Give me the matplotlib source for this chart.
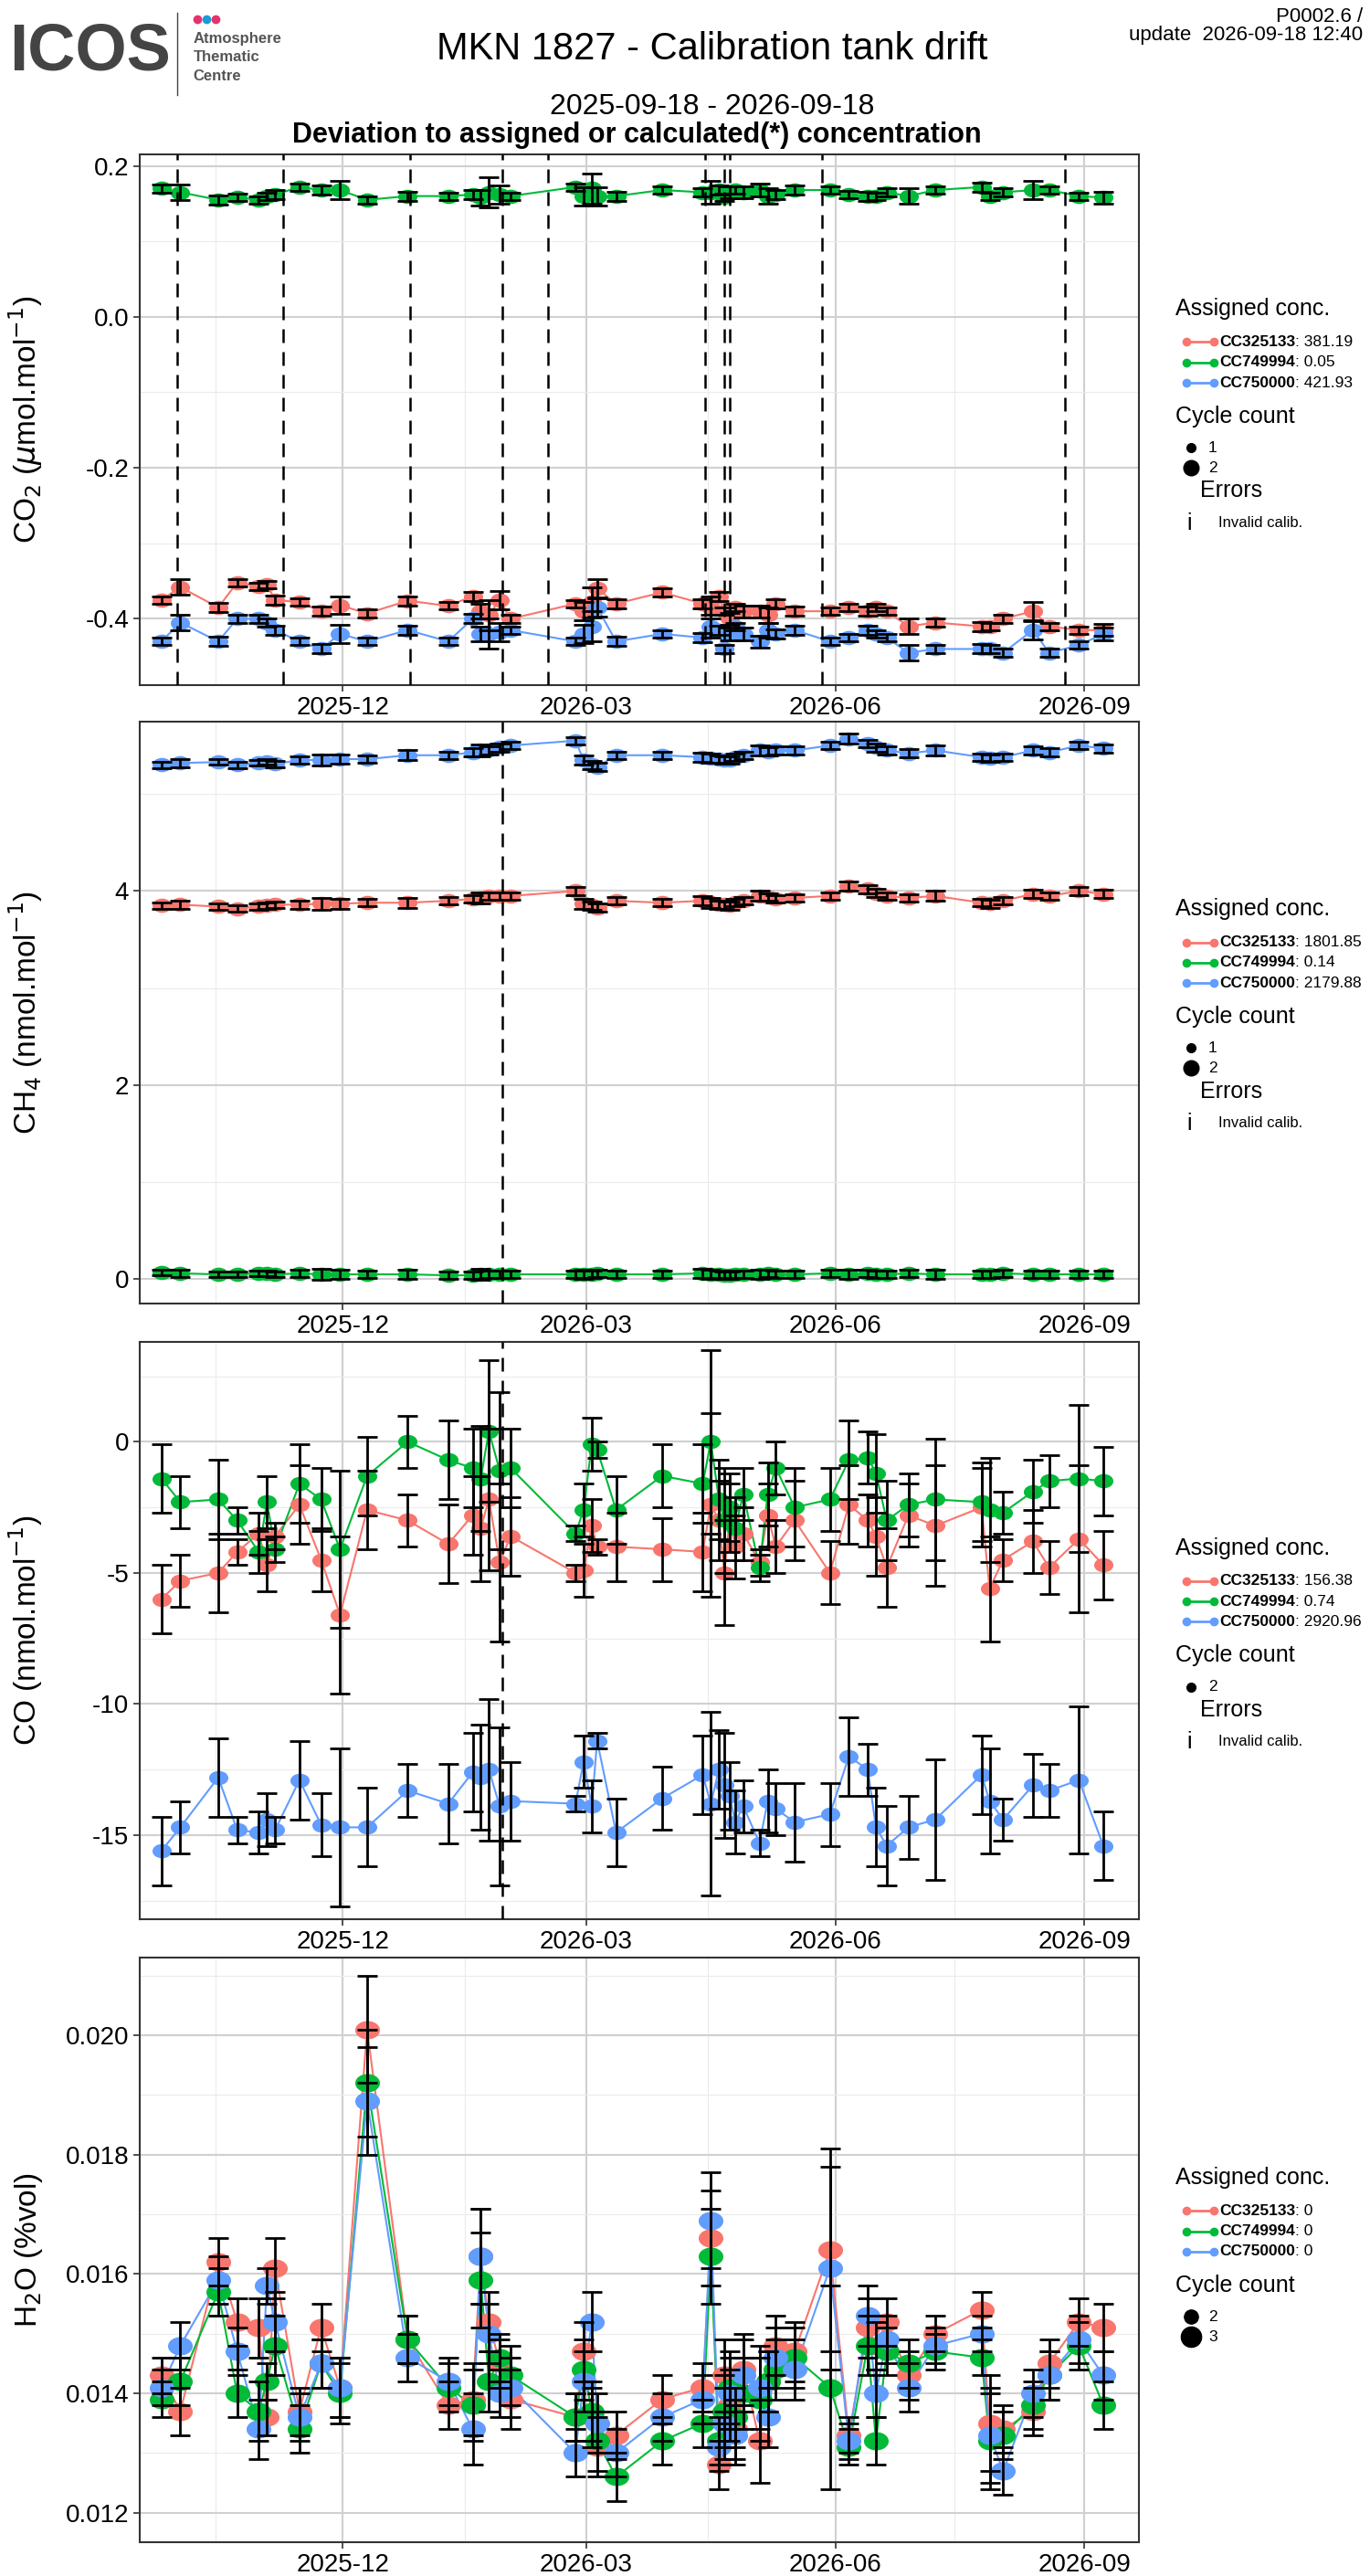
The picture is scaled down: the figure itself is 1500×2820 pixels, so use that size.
import matplotlib
matplotlib.use("Agg")
import matplotlib.pyplot as plt
import matplotlib.dates as mdates
import numpy as np
import pandas as pd
from matplotlib.path import Path
from matplotlib.lines import Line2D

plt.rcParams['font.family'] = ['Liberation Sans', 'DejaVu Sans']

dates = pd.to_datetime([
    "2025-09-25","2025-10-02","2025-10-16","2025-10-23","2025-10-31","2025-11-03","2025-11-06","2025-11-15","2025-11-23","2025-11-30",
    "2025-12-10","2025-12-25","2026-01-09","2026-01-18","2026-01-21","2026-01-24","2026-01-28","2026-02-01","2026-02-25","2026-02-28",
    "2026-03-03","2026-03-05","2026-03-12","2026-03-29","2026-04-13","2026-04-16","2026-04-19","2026-04-21","2026-04-23","2026-04-25",
    "2026-04-28","2026-05-04","2026-05-07","2026-05-10","2026-05-17","2026-05-30","2026-06-06","2026-06-13","2026-06-16","2026-06-20",
    "2026-06-28","2026-07-08","2026-07-25","2026-07-28","2026-08-02","2026-08-13","2026-08-19","2026-08-30","2026-09-08"])

tanks = ["CC325133", "CC749994", "CC750000"]
colors = ["#F8766D", "#00BA38", "#619CFF"]

co2_red = [-0.375,-0.358,-0.385,-0.352,-0.357,-0.355,-0.375,-0.378,-0.39,-0.382,
           -0.393,-0.376,-0.383,-0.37,-0.39,-0.395,-0.375,-0.40,-0.38,-0.39,
           -0.378,-0.36,-0.38,-0.365,-0.38,-0.385,-0.37,-0.39,-0.40,-0.385,
           -0.39,-0.39,-0.395,-0.38,-0.39,-0.39,-0.385,-0.39,-0.385,-0.39,
           -0.41,-0.405,-0.41,-0.41,-0.40,-0.39,-0.41,-0.415,-0.415]
co2_green = [0.17,0.165,0.155,0.158,0.155,0.16,0.162,0.172,0.168,0.168,
             0.155,0.16,0.16,0.162,0.158,0.165,0.162,0.16,0.172,0.16,
             0.17,0.16,0.16,0.168,0.165,0.165,0.168,0.158,0.165,0.168,
             0.165,0.168,0.16,0.162,0.168,0.168,0.162,0.16,0.16,0.165,
             0.16,0.168,0.172,0.16,0.165,0.168,0.168,0.16,0.158]
co2_blue = [-0.43,-0.405,-0.43,-0.40,-0.40,-0.405,-0.415,-0.43,-0.44,-0.42,
            -0.43,-0.415,-0.43,-0.40,-0.42,-0.42,-0.418,-0.415,-0.43,-0.42,
            -0.41,-0.385,-0.43,-0.42,-0.425,-0.41,-0.415,-0.44,-0.42,-0.41,
            -0.42,-0.43,-0.415,-0.42,-0.415,-0.43,-0.425,-0.415,-0.42,-0.425,
            -0.445,-0.44,-0.44,-0.44,-0.445,-0.415,-0.445,-0.435,-0.42]
co2_err = [0.005,0.01,0.006,0.005,0.005,0.005,0.006,0.005,0.006,0.012,
           0.005,0.006,0.005,0.006,0.01,0.02,0.012,0.005,0.005,0.012,
           0.02,0.012,0.006,0.005,0.006,0.015,0.006,0.005,0.008,0.005,
           0.008,0.008,0.01,0.006,0.006,0.005,0.005,0.006,0.005,0.005,
           0.01,0.005,0.006,0.005,0.005,0.012,0.005,0.005,0.008]

ch4_red = [3.85,3.86,3.84,3.82,3.84,3.85,3.86,3.86,3.87,3.87,
           3.88,3.88,3.90,3.92,3.93,3.95,3.95,3.95,4.0,3.87,
           3.85,3.83,3.90,3.88,3.90,3.88,3.86,3.86,3.85,3.88,
           3.90,3.95,3.94,3.92,3.93,3.95,4.05,4.02,3.98,3.95,
           3.93,3.95,3.88,3.87,3.90,3.97,3.95,4.0,3.97]
ch4_green = [0.07,0.06,0.05,0.05,0.06,0.06,0.05,0.06,0.05,0.05,
             0.05,0.05,0.04,0.04,0.05,0.05,0.05,0.05,0.05,0.05,
             0.05,0.06,0.05,0.05,0.06,0.05,0.05,0.04,0.04,0.05,
             0.05,0.05,0.06,0.05,0.05,0.06,0.05,0.06,0.05,0.05,
             0.06,0.05,0.05,0.05,0.06,0.05,0.05,0.05,0.05]
ch4_blue = [5.30,5.32,5.33,5.30,5.32,5.33,5.31,5.35,5.35,5.36,
            5.36,5.40,5.40,5.43,5.45,5.45,5.48,5.50,5.55,5.35,
            5.30,5.28,5.40,5.40,5.38,5.37,5.36,5.35,5.35,5.38,
            5.40,5.45,5.44,5.45,5.45,5.50,5.57,5.52,5.48,5.45,
            5.42,5.45,5.38,5.37,5.38,5.45,5.43,5.50,5.47]
ch4_err = [0.03,0.04,0.03,0.03,0.03,0.03,0.03,0.04,0.06,0.05,
           0.04,0.05,0.04,0.04,0.06,0.04,0.04,0.04,0.04,0.05,
           0.04,0.04,0.04,0.04,0.05,0.05,0.04,0.04,0.04,0.04,
           0.04,0.05,0.04,0.04,0.04,0.04,0.05,0.04,0.04,0.04,
           0.04,0.05,0.04,0.04,0.04,0.04,0.04,0.04,0.04]

co_red = [-6.0,-5.3,-5.0,-4.2,-3.5,-4.7,-3.6,-2.4,-4.5,-6.6,
          -2.6,-3.0,-3.9,-2.8,-3.3,-2.2,-4.6,-3.6,-5.0,-4.9,
          -3.2,-4.0,-4.0,-4.1,-4.2,-2.4,-3.0,-5.0,-2.9,-4.0,
          -3.5,-4.6,-2.8,-4.0,-3.0,-5.0,-2.4,-3.0,-3.6,-4.8,
          -2.8,-3.2,-2.5,-5.6,-4.5,-3.8,-4.8,-3.7,-4.7]
co_green = [-1.4,-2.3,-2.2,-3.0,-4.2,-2.3,-4.1,-1.6,-2.2,-4.1,
            -1.3,0.0,-0.7,-1.0,-1.4,0.4,-1.1,-1.0,-3.5,-2.6,
            -0.1,-0.3,-2.6,-1.3,-1.6,0.0,-2.2,-3.0,-2.5,-3.3,
            -2.0,-4.8,-2.0,-1.0,-2.5,-2.2,-0.7,-0.6,-1.2,-3.0,
            -2.4,-2.2,-2.3,-2.6,-2.7,-1.9,-1.5,-1.4,-1.5]
co_blue = [-15.6,-14.7,-12.8,-14.8,-14.9,-14.4,-14.8,-12.9,-14.6,-14.7,
           -14.7,-13.3,-13.8,-12.6,-12.8,-12.5,-13.9,-13.7,-13.8,-12.2,
           -13.9,-11.4,-14.9,-13.6,-12.7,-13.8,-12.5,-13.1,-13.5,-14.5,
           -13.9,-15.3,-13.7,-14.0,-14.5,-14.2,-12.0,-12.5,-14.7,-15.4,
           -14.7,-14.4,-12.7,-13.7,-14.4,-13.1,-13.3,-12.9,-15.4]
co_err = [1.3,1.0,1.5,0.5,0.8,1.0,0.5,1.5,1.2,3.0,
          1.5,1.0,1.5,1.5,2.0,2.7,3.0,1.5,0.3,1.0,
          1.0,0.3,1.3,1.2,1.5,3.5,1.5,2.0,1.3,1.2,
          1.0,0.5,1.2,1.0,1.5,1.2,1.5,1.0,1.5,1.5,
          1.2,2.3,1.5,2.0,0.8,1.2,1.0,2.8,1.3]

h2o_red = [0.0143,0.0137,0.0162,0.0152,0.0151,0.0136,0.0161,0.0137,0.0151,0.0141,
           0.0201,0.0149,0.0138,0.0139,0.0163,0.0152,0.0145,0.0139,0.0136,0.0147,
           0.0136,0.0131,0.0133,0.0139,0.0141,0.0166,0.0128,0.0143,0.0138,0.0134,
           0.0144,0.0132,0.0142,0.0148,0.0147,0.0164,0.0133,0.0151,0.0148,0.0152,
           0.0143,0.0150,0.0154,0.0135,0.0134,0.0137,0.0145,0.0152,0.0151]
h2o_green = [0.0139,0.0142,0.0157,0.0140,0.0137,0.0142,0.0148,0.0134,0.0145,0.0140,
             0.0192,0.0149,0.0141,0.0138,0.0159,0.0142,0.0146,0.0143,0.0136,0.0144,
             0.0137,0.0132,0.0126,0.0132,0.0135,0.0163,0.0132,0.0137,0.0141,0.0136,
             0.0140,0.0139,0.0142,0.0144,0.0146,0.0141,0.0131,0.0148,0.0132,0.0147,
             0.0145,0.0147,0.0146,0.0132,0.0133,0.0138,0.0143,0.0148,0.0138]
h2o_blue = [0.0141,0.0148,0.0159,0.0147,0.0134,0.0158,0.0152,0.0136,0.0145,0.0141,
            0.0189,0.0146,0.0142,0.0134,0.0163,0.0150,0.0140,0.0141,0.0130,0.0142,
            0.0152,0.0135,0.0130,0.0136,0.0139,0.0169,0.0131,0.0135,0.0140,0.0133,
            0.0143,0.0141,0.0136,0.0146,0.0144,0.0161,0.0132,0.0153,0.0140,0.0149,
            0.0141,0.0148,0.0150,0.0133,0.0127,0.0140,0.0143,0.0149,0.0143]
h2o_err = [0.0003,0.0004,0.0004,0.0004,0.0005,0.0003,0.0005,0.0004,0.0004,0.0005,
           0.0009,0.0004,0.0004,0.0006,0.0008,0.0005,0.0004,0.0005,0.0004,0.0005,
           0.0005,0.0005,0.0004,0.0004,0.0004,0.0008,0.0004,0.0006,0.0006,0.0005,
           0.0006,0.0007,0.0005,0.0005,0.0005,0.0017,0.0003,0.0005,0.0004,0.0004,
           0.0004,0.0003,0.0003,0.0008,0.0004,0.0004,0.0004,0.0004,0.0004]

co2_vlines = pd.to_datetime(["2025-10-01","2025-11-09","2025-12-26","2026-01-29","2026-02-15",
                             "2026-04-14","2026-04-21","2026-04-23","2026-05-27","2026-08-25"])
other_vlines = pd.to_datetime(["2026-01-29"])

panels = [
    dict(ylabel=r"CO$_2$ ($\mu$mol.mol$^{-1}$)", series=[co2_red, co2_green, co2_blue], err=co2_err,
         ylim=(-0.488, 0.215), yticks=[-0.4, -0.2, 0.0, 0.2], fmt="%.1f", vlines=co2_vlines,
         assigned=["381.19", "0.05", "421.93"], cycles=["1", "2"], size=230, errors=True,
         rect=[0.102, 0.734, 0.729, 0.206], legoff=0.043),
    dict(ylabel=r"CH$_4$ (nmol.mol$^{-1}$)", series=[ch4_red, ch4_green, ch4_blue], err=ch4_err,
         ylim=(-0.25, 5.75), yticks=[0, 2, 4], fmt="%d", vlines=other_vlines,
         assigned=["1801.85", "0.14", "2179.88"], cycles=["1", "2"], size=230, errors=True,
         rect=[0.102, 0.494, 0.729, 0.226], legoff=0.040),
    dict(ylabel=r"CO (nmol.mol$^{-1}$)", series=[co_red, co_green, co_blue], err=co_err,
         ylim=(-18.2, 3.8), yticks=[-15, -10, -5, 0], fmt="%d", vlines=other_vlines,
         assigned=["156.38", "0.74", "2920.96"], cycles=["2"], size=230, errors=True,
         rect=[0.102, 0.255, 0.729, 0.224], legoff=0.032),
    dict(ylabel=r"H$_2$O (%vol)", series=[h2o_red, h2o_green, h2o_blue], err=h2o_err,
         ylim=(0.0115, 0.0213), yticks=[0.012, 0.014, 0.016, 0.018, 0.020], fmt="%.3f", vlines=[],
         assigned=["0", "0", "0"], cycles=["2", "3"], size=380, errors=False,
         rect=[0.102, 0.013, 0.729, 0.227], legoff=0.028),
]

ell = Path.unit_circle().transformed(matplotlib.transforms.Affine2D().scale(1.35, 1.0))

fig = plt.figure(figsize=(15, 28.2), dpi=100)
renderer = fig.canvas.get_renderer()
xmin, xmax = pd.Timestamp("2025-09-17"), pd.Timestamp("2026-09-21")
for p in panels:
    ax = fig.add_axes(p["rect"])
    ax.set_facecolor("white")
    for ys, c in zip(p["series"], colors):
        ax.plot(dates, ys, color=c, lw=1.5, zorder=2)
        ax.scatter(dates, ys, s=p["size"], color=c, marker=ell, zorder=3, linewidths=0)
        ax.errorbar(dates, ys, yerr=p["err"], fmt="none", ecolor="black", elinewidth=2,
                    capsize=8, capthick=2, zorder=4)
    for v in p["vlines"]:
        ax.axvline(v, color="black", ls=(0, (6, 4)), lw=1.8, zorder=5)
    yt = p["yticks"]
    step = yt[1] - yt[0]
    ax.set_yticks(yt)
    ax.set_yticks([t + step / 2 for t in [yt[0] - step] + yt], minor=True)
    ax.set_xlim(xmin, xmax)
    ax.set_ylim(*p["ylim"])
    ax.yaxis.set_major_formatter(matplotlib.ticker.FormatStrFormatter(p["fmt"]))
    ax.xaxis.set_major_locator(mdates.MonthLocator(bymonth=[3, 6, 9, 12]))
    ax.xaxis.set_minor_locator(mdates.MonthLocator(bymonth=[1, 4, 7, 10], bymonthday=15))
    ax.xaxis.set_major_formatter(mdates.DateFormatter("%Y-%m"))
    ax.grid(True, which="major", color="#d0d0d0", lw=1.5)
    ax.grid(True, which="minor", color="#ebebeb", lw=0.8)
    ax.set_axisbelow(True)
    ax.tick_params(labelsize=20, length=5, width=1.2, color="#333333")
    ax.tick_params(which="minor", length=0)
    for s in ax.spines.values():
        s.set_color("#333333"); s.set_linewidth(1.5)
    ax.set_ylabel(p["ylabel"], fontsize=24)
    ax.yaxis.set_label_coords(-0.095, 0.5)

    # legend
    r = p["rect"]
    top = r[1] + r[3] / 2 + p["legoff"]
    fig.text(0.858, top, "Assigned conc.", fontsize=18, va="center")
    for i, (t, c, a) in enumerate(zip(tanks, colors, p["assigned"])):
        yy = top - 0.0128 - i * 0.0079
        fig.add_artist(Line2D([0.866, 0.886], [yy, yy], color=c, lw=2, marker="o", markersize=6,
                              transform=fig.transFigure))
        tb = fig.text(0.890, yy, t, fontsize=12.5, fontweight="bold", va="center")
        bb = tb.get_window_extent(renderer).transformed(fig.transFigure.inverted())
        fig.text(bb.x1, yy, ": " + a, fontsize=12.5, va="center")
    cy = top - 0.0417
    fig.text(0.858, cy, "Cycle count", fontsize=18, va="center")
    for j, cc in enumerate(p["cycles"]):
        yy = cy - 0.0121 - j * 0.0079
        ms = (7 + 5 * j) if p["errors"] else (11 + 5 * j)
        fig.add_artist(Line2D([0.869], [yy], color="black", marker="o", markersize=ms, lw=0,
                              transform=fig.transFigure))
        fig.text(0.882, yy, cc, fontsize=12.5, va="center")
    if p["errors"]:
        ey = cy - 0.0121 - len(p["cycles"]) * 0.0079 - 0.001
        fig.text(0.876, ey, "Errors", fontsize=18, va="center")
        fig.text(0.868, ey - 0.0125, "i", fontsize=18, va="center", ha="center")
        fig.text(0.889, ey - 0.0125, "Invalid calib.", fontsize=12, va="center")

# header
fig.text(0.007, 0.9795, "ICOS", fontsize=52, fontweight="bold", color="#444444", va="center")
fig.add_artist(Line2D([0.129, 0.129], [0.963, 0.995], color="#444444", lw=1, transform=fig.transFigure))
for k, c in enumerate(["#E5336F", "#1E9BD7", "#E5336F"]):
    fig.add_artist(Line2D([0.144 + k * 0.0065], [0.9925], color=c, marker="o", markersize=6, lw=0,
                          transform=fig.transFigure))
for k, t in enumerate(["Atmosphere", "Thematic", "Centre"]):
    fig.text(0.141, 0.985 - k * 0.0073, t, fontsize=12, fontweight="bold", color="#555555", va="center")
fig.text(0.52, 0.981, "MKN 1827 - Calibration tank drift", fontsize=30, ha="center", va="center")
fig.text(0.52, 0.9585, "2025-09-18 - 2026-09-18", fontsize=23, ha="center", va="center")
fig.text(0.465, 0.9474, "Deviation to assigned or calculated(*) concentration", fontsize=22,
         fontweight="bold", ha="center", va="center")
fig.text(0.995, 0.9935, "P0002.6 /", fontsize=16, ha="right", va="center")
fig.text(0.995, 0.9865, "update  2026-09-18 12:40", fontsize=16, ha="right", va="center")

fig.savefig("out.png", dpi=100, facecolor="white")
